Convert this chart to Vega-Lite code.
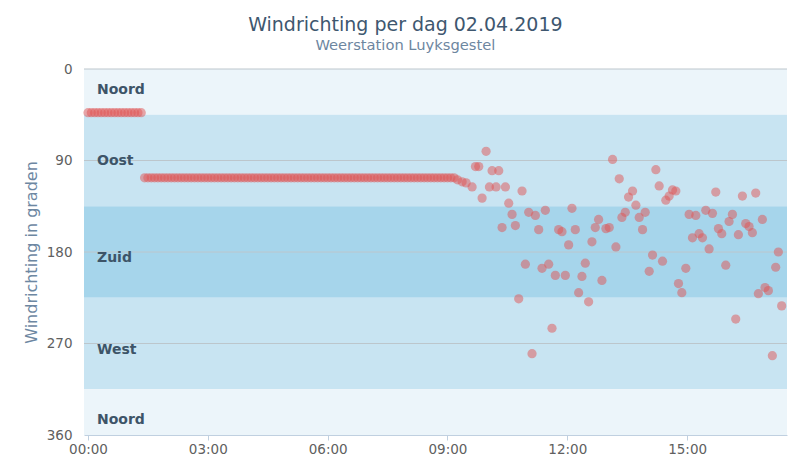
{
  "$schema": "https://vega.github.io/schema/vega-lite/v6.json",
  "width": 703,
  "height": 366,
  "padding": {"left": 23, "top": 16, "right": 5, "bottom": 5},
  "config": {
    "view": {"stroke": null},
    "font": "DejaVu Sans"
  },
  "title": {
    "text": "Windrichting per dag 02.04.2019",
    "subtitle": "Weerstation Luyksgestel",
    "anchor": "middle",
    "frame": "bounds",
    "fontSize": 19,
    "fontWeight": "normal",
    "color": "#3e576f",
    "subtitleFontSize": 14.7,
    "subtitleColor": "#6d869f",
    "offset": 9
  },
  "layer": [
    {
      "data": {"values": [
        {"naam": "Noord", "van": 0, "tot": 45},
        {"naam": "Oost", "van": 45, "tot": 135},
        {"naam": "Zuid", "van": 135, "tot": 225},
        {"naam": "West", "van": 225, "tot": 315},
        {"naam": "Noord", "van": 315, "tot": 360}
      ]},
      "mark": {"type": "rect"},
      "encoding": {
        "y": {"field": "van", "type": "quantitative", "scale": {"domain": [0, 360], "reverse": true, "nice": false, "zero": false},
          "axis": {"values": [0, 90, 180, 270, 360], "grid": false, "domain": false, "ticks": false, "labelPadding": 12, "labelColor": "#606060", "labelFontSize": 13.5,
            "title": "Windrichting in graden", "titleColor": "#6d87a2", "titleFontSize": 16, "titleFontWeight": "normal", "titlePadding": 7}},
        "y2": {"field": "tot"},
        "color": {"field": "naam", "type": "nominal", "legend": null,
          "scale": {"domain": ["Noord", "Oost", "Zuid", "West"], "range": ["#ecf5fa", "#c8e4f2", "#a6d5eb", "#c8e4f2"]}}
      }
    },
    {
      "data": {"values": [{"g": 0}, {"g": 90}, {"g": 180}, {"g": 270}]},
      "mark": {"type": "rule", "color": "#bcc6cc", "strokeWidth": 1},
      "encoding": {"y": {"field": "g", "type": "quantitative"}}
    },
    {
      "data": {"values": [
        {"naam": "Noord", "lbl": 21, "t": "2019-04-02T00:00"},
        {"naam": "Oost", "lbl": 90, "t": "2019-04-02T00:00"},
        {"naam": "Zuid", "lbl": 186, "t": "2019-04-02T00:00"},
        {"naam": "West", "lbl": 276, "t": "2019-04-02T00:00"},
        {"naam": "Noord", "lbl": 345, "t": "2019-04-02T00:00"}
      ]},
      "mark": {"type": "text", "align": "left", "baseline": "middle", "dx": 9, "fontSize": 14, "fontWeight": "bold", "color": "#3d5468"},
      "encoding": {
        "x": {"field": "t", "type": "temporal"},
        "y": {"field": "lbl", "type": "quantitative"},
        "text": {"field": "naam", "type": "nominal"}
      }
    },
    {
      "data": {
        "values": [
          {"t":"2019-04-02T00:00","d":43},{"t":"2019-04-02T00:05","d":43},{"t":"2019-04-02T00:10","d":43},{"t":"2019-04-02T00:15","d":43},{"t":"2019-04-02T00:20","d":43},{"t":"2019-04-02T00:25","d":43},{"t":"2019-04-02T00:30","d":43},{"t":"2019-04-02T00:35","d":43},{"t":"2019-04-02T00:40","d":43},{"t":"2019-04-02T00:45","d":43},{"t":"2019-04-02T00:50","d":43},{"t":"2019-04-02T00:55","d":43},
          {"t":"2019-04-02T01:00","d":43},{"t":"2019-04-02T01:05","d":43},{"t":"2019-04-02T01:10","d":43},{"t":"2019-04-02T01:15","d":43},{"t":"2019-04-02T01:20","d":43},
          {"t":"2019-04-02T01:25","d":107},{"t":"2019-04-02T01:30","d":107},{"t":"2019-04-02T01:35","d":107},{"t":"2019-04-02T01:40","d":107},{"t":"2019-04-02T01:45","d":107},{"t":"2019-04-02T01:50","d":107},{"t":"2019-04-02T01:55","d":107},
          {"t":"2019-04-02T02:00","d":107},{"t":"2019-04-02T02:05","d":107},{"t":"2019-04-02T02:10","d":107},{"t":"2019-04-02T02:15","d":107},{"t":"2019-04-02T02:20","d":107},{"t":"2019-04-02T02:25","d":107},{"t":"2019-04-02T02:30","d":107},{"t":"2019-04-02T02:35","d":107},{"t":"2019-04-02T02:40","d":107},{"t":"2019-04-02T02:45","d":107},{"t":"2019-04-02T02:50","d":107},{"t":"2019-04-02T02:55","d":107},
          {"t":"2019-04-02T03:00","d":107},{"t":"2019-04-02T03:05","d":107},{"t":"2019-04-02T03:10","d":107},{"t":"2019-04-02T03:15","d":107},{"t":"2019-04-02T03:20","d":107},{"t":"2019-04-02T03:25","d":107},{"t":"2019-04-02T03:30","d":107},{"t":"2019-04-02T03:35","d":107},{"t":"2019-04-02T03:40","d":107},{"t":"2019-04-02T03:45","d":107},{"t":"2019-04-02T03:50","d":107},{"t":"2019-04-02T03:55","d":107},
          {"t":"2019-04-02T04:00","d":107},{"t":"2019-04-02T04:05","d":107},{"t":"2019-04-02T04:10","d":107},{"t":"2019-04-02T04:15","d":107},{"t":"2019-04-02T04:20","d":107},{"t":"2019-04-02T04:25","d":107},{"t":"2019-04-02T04:30","d":107},{"t":"2019-04-02T04:35","d":107},{"t":"2019-04-02T04:40","d":107},{"t":"2019-04-02T04:45","d":107},{"t":"2019-04-02T04:50","d":107},{"t":"2019-04-02T04:55","d":107},
          {"t":"2019-04-02T05:00","d":107},{"t":"2019-04-02T05:05","d":107},{"t":"2019-04-02T05:10","d":107},{"t":"2019-04-02T05:15","d":107},{"t":"2019-04-02T05:20","d":107},{"t":"2019-04-02T05:25","d":107},{"t":"2019-04-02T05:30","d":107},{"t":"2019-04-02T05:35","d":107},{"t":"2019-04-02T05:40","d":107},{"t":"2019-04-02T05:45","d":107},{"t":"2019-04-02T05:50","d":107},{"t":"2019-04-02T05:55","d":107},
          {"t":"2019-04-02T06:00","d":107},{"t":"2019-04-02T06:05","d":107},{"t":"2019-04-02T06:10","d":107},{"t":"2019-04-02T06:15","d":107},{"t":"2019-04-02T06:20","d":107},{"t":"2019-04-02T06:25","d":107},{"t":"2019-04-02T06:30","d":107},{"t":"2019-04-02T06:35","d":107},{"t":"2019-04-02T06:40","d":107},{"t":"2019-04-02T06:45","d":107},{"t":"2019-04-02T06:50","d":107},{"t":"2019-04-02T06:55","d":107},
          {"t":"2019-04-02T07:00","d":107},{"t":"2019-04-02T07:05","d":107},{"t":"2019-04-02T07:10","d":107},{"t":"2019-04-02T07:15","d":107},{"t":"2019-04-02T07:20","d":107},{"t":"2019-04-02T07:25","d":107},{"t":"2019-04-02T07:30","d":107},{"t":"2019-04-02T07:35","d":107},{"t":"2019-04-02T07:40","d":107},{"t":"2019-04-02T07:45","d":107},{"t":"2019-04-02T07:50","d":107},{"t":"2019-04-02T07:55","d":107},
          {"t":"2019-04-02T08:00","d":107},{"t":"2019-04-02T08:05","d":107},{"t":"2019-04-02T08:10","d":107},{"t":"2019-04-02T08:15","d":107},{"t":"2019-04-02T08:20","d":107},{"t":"2019-04-02T08:25","d":107},{"t":"2019-04-02T08:30","d":107},{"t":"2019-04-02T08:35","d":107},{"t":"2019-04-02T08:40","d":107},{"t":"2019-04-02T08:45","d":107},{"t":"2019-04-02T08:50","d":107},{"t":"2019-04-02T08:55","d":107},
          {"t":"2019-04-02T09:00","d":107},{"t":"2019-04-02T09:05","d":107},{"t":"2019-04-02T09:10","d":107},
          {"t":"2019-04-02T09:15","d":109},{"t":"2019-04-02T09:22","d":111},{"t":"2019-04-02T09:28","d":112},{"t":"2019-04-02T09:37","d":116},{"t":"2019-04-02T09:42","d":96},{"t":"2019-04-02T09:47","d":96},{"t":"2019-04-02T09:52","d":127},{"t":"2019-04-02T09:58","d":81},
          {"t":"2019-04-02T10:03","d":116},{"t":"2019-04-02T10:07","d":100},{"t":"2019-04-02T10:13","d":116},{"t":"2019-04-02T10:17","d":100},{"t":"2019-04-02T10:22","d":156},{"t":"2019-04-02T10:27","d":116},{"t":"2019-04-02T10:32","d":132},{"t":"2019-04-02T10:37","d":143},{"t":"2019-04-02T10:42","d":154},{"t":"2019-04-02T10:47","d":226},{"t":"2019-04-02T10:52","d":120},{"t":"2019-04-02T10:57","d":192},
          {"t":"2019-04-02T11:02","d":141},{"t":"2019-04-02T11:07","d":280},{"t":"2019-04-02T11:12","d":144},{"t":"2019-04-02T11:17","d":158},{"t":"2019-04-02T11:22","d":196},{"t":"2019-04-02T11:27","d":139},{"t":"2019-04-02T11:32","d":192},{"t":"2019-04-02T11:37","d":255},{"t":"2019-04-02T11:42","d":203},{"t":"2019-04-02T11:47","d":158},{"t":"2019-04-02T11:52","d":160},{"t":"2019-04-02T11:57","d":203},
          {"t":"2019-04-02T12:02","d":173},{"t":"2019-04-02T12:07","d":137},{"t":"2019-04-02T12:12","d":158},{"t":"2019-04-02T12:17","d":220},{"t":"2019-04-02T12:22","d":204},{"t":"2019-04-02T12:27","d":191},{"t":"2019-04-02T12:32","d":229},{"t":"2019-04-02T12:37","d":170},{"t":"2019-04-02T12:42","d":156},{"t":"2019-04-02T12:47","d":148},{"t":"2019-04-02T12:52","d":208},{"t":"2019-04-02T12:58","d":157},
          {"t":"2019-04-02T13:03","d":156},{"t":"2019-04-02T13:08","d":89},{"t":"2019-04-02T13:13","d":175},{"t":"2019-04-02T13:18","d":108},{"t":"2019-04-02T13:22","d":146},{"t":"2019-04-02T13:27","d":141},{"t":"2019-04-02T13:32","d":126},{"t":"2019-04-02T13:38","d":120},{"t":"2019-04-02T13:43","d":134},{"t":"2019-04-02T13:48","d":146},{"t":"2019-04-02T13:53","d":158},{"t":"2019-04-02T13:57","d":141},
          {"t":"2019-04-02T14:03","d":199},{"t":"2019-04-02T14:08","d":183},{"t":"2019-04-02T14:13","d":99},{"t":"2019-04-02T14:18","d":115},{"t":"2019-04-02T14:23","d":189},{"t":"2019-04-02T14:28","d":129},{"t":"2019-04-02T14:33","d":125},{"t":"2019-04-02T14:38","d":119},{"t":"2019-04-02T14:43","d":120},{"t":"2019-04-02T14:47","d":211},{"t":"2019-04-02T14:52","d":220},{"t":"2019-04-02T14:58","d":196},
          {"t":"2019-04-02T15:03","d":143},{"t":"2019-04-02T15:08","d":166},{"t":"2019-04-02T15:13","d":144},{"t":"2019-04-02T15:18","d":162},{"t":"2019-04-02T15:23","d":166},{"t":"2019-04-02T15:28","d":139},{"t":"2019-04-02T15:33","d":177},{"t":"2019-04-02T15:38","d":142},{"t":"2019-04-02T15:43","d":121},{"t":"2019-04-02T15:47","d":157},{"t":"2019-04-02T15:52","d":162},{"t":"2019-04-02T15:58","d":193},
          {"t":"2019-04-02T16:03","d":150},{"t":"2019-04-02T16:08","d":143},{"t":"2019-04-02T16:13","d":246},{"t":"2019-04-02T16:17","d":163},{"t":"2019-04-02T16:23","d":125},{"t":"2019-04-02T16:28","d":152},{"t":"2019-04-02T16:33","d":155},{"t":"2019-04-02T16:38","d":161},{"t":"2019-04-02T16:43","d":122},{"t":"2019-04-02T16:47","d":221},{"t":"2019-04-02T16:53","d":148},{"t":"2019-04-02T16:57","d":215},
          {"t":"2019-04-02T17:02","d":218},{"t":"2019-04-02T17:08","d":282},{"t":"2019-04-02T17:13","d":195},{"t":"2019-04-02T17:17","d":180},{"t":"2019-04-02T17:22","d":233}
        ]
      },
      "mark": {"type": "circle", "size": 85, "color": "#df5353", "opacity": 0.5},
      "encoding": {
        "x": {"field": "t", "type": "temporal",
          "scale": {"domain": [{"year": 2019, "month": 4, "date": 1, "hours": 23, "minutes": 54}, {"year": 2019, "month": 4, "date": 2, "hours": 17, "minutes": 30}], "nice": false},
          "axis": {"title": null, "format": "%H:%M",
            "values": [{"year": 2019, "month": 4, "date": 2, "hours": 0}, {"year": 2019, "month": 4, "date": 2, "hours": 3}, {"year": 2019, "month": 4, "date": 2, "hours": 6}, {"year": 2019, "month": 4, "date": 2, "hours": 9}, {"year": 2019, "month": 4, "date": 2, "hours": 12}, {"year": 2019, "month": 4, "date": 2, "hours": 15}],
            "grid": false, "domainColor": "#c0d0e0", "tickColor": "#c0d0e0", "tickSize": 5, "labelColor": "#606060", "labelFontSize": 13.5, "labelPadding": 2}},
        "y": {"field": "d", "type": "quantitative"}
      }
    }
  ]
}
